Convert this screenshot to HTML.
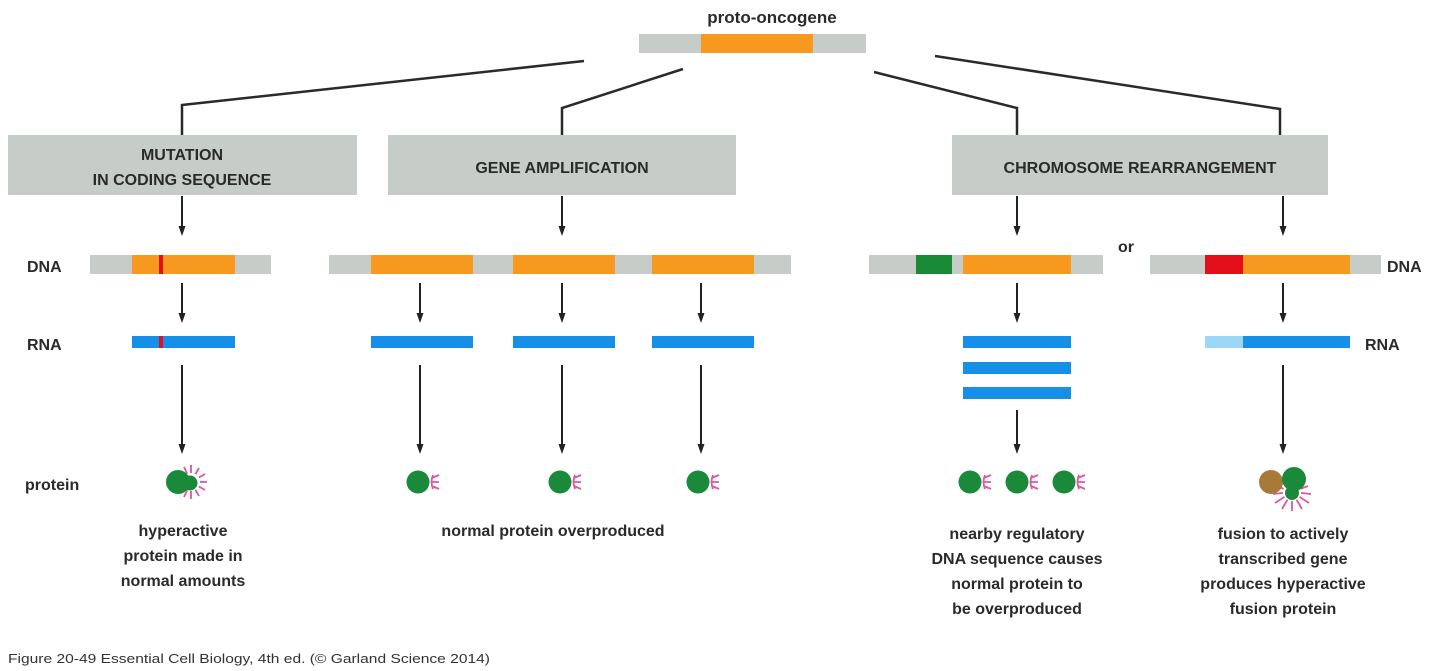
<!DOCTYPE html>
<html><head><meta charset="utf-8"><style>
html,body{margin:0;padding:0;background:#fff}
svg{display:block}
text{font-family:"Liberation Sans",sans-serif;font-weight:bold;fill:#2a2a2a}
</style></head><body>
<svg width="1440" height="671" viewBox="0 0 1440 671" xmlns="http://www.w3.org/2000/svg">
<defs>
<marker id="ah" markerWidth="8" markerHeight="10" refX="4" refY="9" orient="auto" markerUnits="userSpaceOnUse">
<path d="M0,0 L8,0 L4,10 Z" fill="#222" transform="rotate(0)"/>
</marker>
<g id="np">
<circle cx="0" cy="0" r="11.5" fill="#1a8a3a"/>
<path d="M15,-7 Q12,0 15,7 M14,-4 L21,-7 M13.5,0 L21,0 M14,4 L21,7" stroke="#e0559e" stroke-width="1.8" fill="none"/>
</g>
<g id="arr"><line x1="0" y1="0" x2="0" y2="34" stroke="#222" stroke-width="2"/><path d="M-3.5,30 L3.5,30 L0,40 Z" fill="#222"/></g>
</defs>

<text x="772" y="23" font-size="17" text-anchor="middle">proto-oncogene</text>
<rect x="639" y="34" width="227" height="19" fill="#c6ccc7"/>
<rect x="701" y="34" width="112" height="19" fill="#f7991f"/>

<g stroke="#2a2a2a" stroke-width="2.5" fill="none">
<polyline points="584,61 182,105 182,135"/>
<polyline points="683,69 562,108 562,135"/>
<polyline points="874,72 1017,108 1017,135"/>
<polyline points="935,56 1280,109 1280,135"/>
</g>

<rect x="8" y="135" width="349" height="60" fill="#c6ccc7"/>
<rect x="388" y="135" width="348" height="60" fill="#c6ccc7"/>
<rect x="952" y="135" width="376" height="60" fill="#c6ccc7"/>
<text x="182" y="160" font-size="16" text-anchor="middle">MUTATION</text>
<text x="182" y="185" font-size="16" text-anchor="middle">IN CODING SEQUENCE</text>
<text x="562" y="173" font-size="16" text-anchor="middle">GENE AMPLIFICATION</text>
<text x="1140" y="173" font-size="16" text-anchor="middle">CHROMOSOME REARRANGEMENT</text>

<use href="#arr" x="182" y="196"/>
<use href="#arr" x="562" y="196"/>
<use href="#arr" x="1017" y="196"/>
<use href="#arr" x="1283" y="196"/>

<text x="27" y="272" font-size="16">DNA</text>
<text x="27" y="350" font-size="16">RNA</text>
<text x="25" y="490" font-size="16">protein</text>
<text x="1387" y="272" font-size="16">DNA</text>
<text x="1365" y="350" font-size="16">RNA</text>
<text x="1118" y="252" font-size="16">or</text>

<rect x="90" y="255" width="181" height="19" fill="#c6ccc7"/>
<rect x="132" y="255" width="103" height="19" fill="#f7991f"/>
<rect x="159" y="255" width="4" height="19" fill="#e3101b"/>

<rect x="329" y="255" width="462" height="19" fill="#c6ccc7"/>
<rect x="371" y="255" width="102" height="19" fill="#f7991f"/>
<rect x="513" y="255" width="102" height="19" fill="#f7991f"/>
<rect x="652" y="255" width="102" height="19" fill="#f7991f"/>

<rect x="869" y="255" width="234" height="19" fill="#c6ccc7"/>
<rect x="916" y="255" width="36" height="19" fill="#1b8a36"/>
<rect x="963" y="255" width="108" height="19" fill="#f7991f"/>

<rect x="1150" y="255" width="231" height="19" fill="#c6ccc7"/>
<rect x="1205" y="255" width="38" height="19" fill="#e3101b"/>
<rect x="1243" y="255" width="107" height="19" fill="#f7991f"/>

<use href="#arr" x="182" y="283"/>
<use href="#arr" x="420" y="283"/>
<use href="#arr" x="562" y="283"/>
<use href="#arr" x="701" y="283"/>
<use href="#arr" x="1017" y="283"/>
<use href="#arr" x="1283" y="283"/>

<rect x="132" y="336" width="103" height="12" fill="#168fe6"/>
<rect x="159" y="336" width="4" height="12" fill="#e3101b"/>
<rect x="371" y="336" width="102" height="12" fill="#168fe6"/>
<rect x="513" y="336" width="102" height="12" fill="#168fe6"/>
<rect x="652" y="336" width="102" height="12" fill="#168fe6"/>
<rect x="963" y="336" width="108" height="12" fill="#168fe6"/>
<rect x="963" y="362" width="108" height="12" fill="#168fe6"/>
<rect x="963" y="387" width="108" height="12" fill="#168fe6"/>
<rect x="1205" y="336" width="38" height="12" fill="#9dd6f7"/>
<rect x="1243" y="336" width="107" height="12" fill="#168fe6"/>

<g stroke="#222" stroke-width="2">
<line x1="182" y1="365" x2="182" y2="448"/>
<line x1="420" y1="365" x2="420" y2="448"/>
<line x1="562" y1="365" x2="562" y2="448"/>
<line x1="701" y1="365" x2="701" y2="448"/>
<line x1="1017" y1="410" x2="1017" y2="448"/>
<line x1="1283" y1="365" x2="1283" y2="448"/>
</g>
<g fill="#222">
<path d="M178.5,444 L185.5,444 L182,454 Z"/>
<path d="M416.5,444 L423.5,444 L420,454 Z"/>
<path d="M558.5,444 L565.5,444 L562,454 Z"/>
<path d="M697.5,444 L704.5,444 L701,454 Z"/>
<path d="M1013.5,444 L1020.5,444 L1017,454 Z"/>
<path d="M1279.5,444 L1286.5,444 L1283,454 Z"/>
</g>

<!-- hyperactive protein -->
<g stroke="#e0559e" stroke-width="1.8">
<line x1="191" y1="482" x2="207" y2="482"/>
<line x1="191" y1="482" x2="205" y2="474"/>
<line x1="191" y1="482" x2="205" y2="490"/>
<line x1="191" y1="482" x2="199" y2="468"/>
<line x1="191" y1="482" x2="199" y2="496"/>
<line x1="191" y1="482" x2="191" y2="465"/>
<line x1="191" y1="482" x2="191" y2="499"/>
<line x1="191" y1="482" x2="184" y2="467"/>
<line x1="191" y1="482" x2="184" y2="497"/>
</g>
<circle cx="191" cy="482" r="9" fill="#fff"/>
<circle cx="178" cy="482" r="12" fill="#1a8a3a"/>
<circle cx="190" cy="483" r="7.5" fill="#1a8a3a"/>

<use href="#np" x="418" y="482"/>
<use href="#np" x="560" y="482"/>
<use href="#np" x="698" y="482"/>
<use href="#np" x="970" y="482"/>
<use href="#np" x="1017" y="482"/>
<use href="#np" x="1064" y="482"/>

<!-- fusion protein -->
<g stroke="#e0559e" stroke-width="1.8">
<line x1="1292" y1="492" x2="1292" y2="511"/>
<line x1="1292" y1="492" x2="1282" y2="509"/>
<line x1="1292" y1="492" x2="1302" y2="509"/>
<line x1="1292" y1="492" x2="1275" y2="503"/>
<line x1="1292" y1="492" x2="1309" y2="503"/>
<line x1="1292" y1="492" x2="1273" y2="494"/>
<line x1="1292" y1="492" x2="1311" y2="494"/>
<line x1="1292" y1="492" x2="1276" y2="486"/>
<line x1="1292" y1="492" x2="1308" y2="486"/>
</g>
<circle cx="1292" cy="492" r="9" fill="#fff"/>
<circle cx="1271" cy="482" r="12" fill="#a87a3a"/>
<circle cx="1294" cy="479" r="12" fill="#1a8a3a"/>
<circle cx="1292" cy="493" r="7" fill="#1a8a3a"/>

<g font-size="16" text-anchor="middle">
<text x="183" y="536">hyperactive</text>
<text x="183" y="561">protein made in</text>
<text x="183" y="586">normal amounts</text>
<text x="553" y="536">normal protein overproduced</text>
<text x="1017" y="539">nearby regulatory</text>
<text x="1017" y="564">DNA sequence causes</text>
<text x="1017" y="589">normal protein to</text>
<text x="1017" y="614">be overproduced</text>
<text x="1283" y="539">fusion to actively</text>
<text x="1283" y="564">transcribed gene</text>
<text x="1283" y="589">produces hyperactive</text>
<text x="1283" y="614">fusion protein</text>
</g>

<text x="8" y="663" font-size="13" font-weight="normal" textLength="482" lengthAdjust="spacingAndGlyphs" style="font-weight:normal;fill:#333">Figure 20-49  Essential Cell Biology, 4th ed. (© Garland Science 2014)</text>
</svg>
</body></html>
